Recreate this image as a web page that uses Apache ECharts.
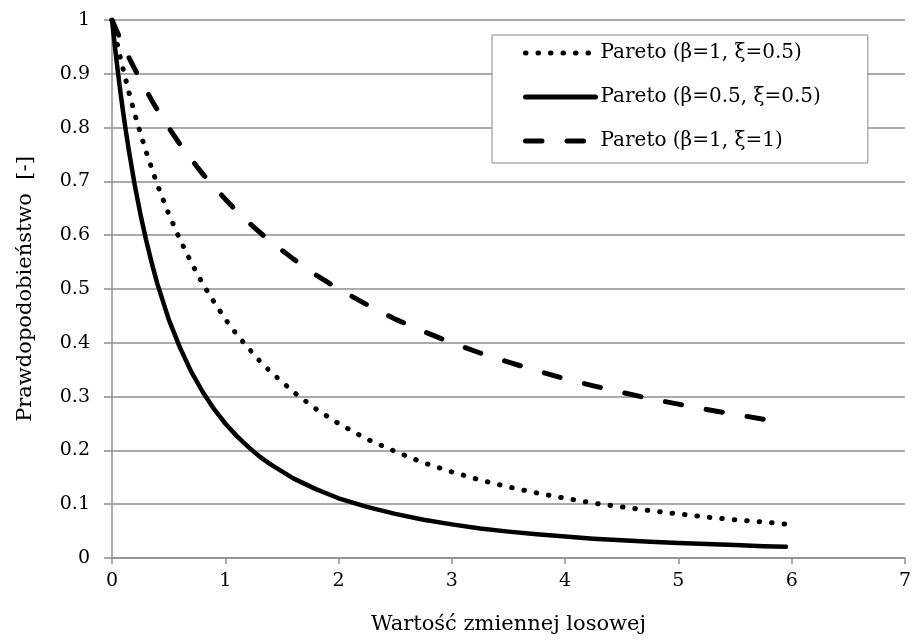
<!DOCTYPE html>
<html>
<head>
<meta charset="utf-8">
<title>Pareto</title>
<script src="https://cdn.jsdelivr.net/npm/echarts@6/dist/echarts.min.js"></script>
<style>
  html, body { margin: 0; padding: 0; background: #fff; }
  #chart { width: 914px; height: 640px; }
</style>
</head>
<body>
<div id="chart"></div>
<script>
// Values of the random variable (denser where the curves bend sharply)
const xValues = [0, 0.025, 0.05, 0.075, 0.1, 0.125, 0.15, 0.2, 0.25, 0.3, 0.35, 0.4, 0.5, 0.6, 0.7, 0.8, 0.9, 1.0,
  1.1, 1.2, 1.3, 1.4, 1.6, 1.8, 2.0, 2.25, 2.5, 2.75, 3.0, 3.25, 3.5, 3.75, 4.0,
  4.25, 4.5, 4.75, 5.0, 5.25, 5.5, 5.75, 5.95];

// Pareto (β=1, ξ=0.5)
const paretoB1X05 = [1, 0.976, 0.952, 0.929, 0.907, 0.886, 0.865, 0.826, 0.790, 0.756, 0.725, 0.694, 0.640,
  0.592, 0.549, 0.510, 0.476, 0.444, 0.416, 0.391, 0.367, 0.346, 0.309, 0.277, 0.250,
  0.221, 0.198, 0.177, 0.160, 0.145, 0.132, 0.121, 0.111,
  0.102, 0.095, 0.088, 0.082, 0.076, 0.071, 0.067, 0.063];

// Pareto (β=0.5, ξ=0.5)
const paretoB05X05 = [1, 0.952, 0.907, 0.865, 0.826, 0.790, 0.756, 0.694, 0.640, 0.592, 0.549, 0.510, 0.444,
  0.391, 0.346, 0.309, 0.277, 0.250, 0.227, 0.207, 0.189, 0.174, 0.148, 0.128, 0.111,
  0.095, 0.082, 0.071, 0.0625, 0.055, 0.049, 0.044, 0.040,
  0.036, 0.033, 0.030, 0.028, 0.026, 0.024, 0.022, 0.021];

// Pareto (β=1, ξ=1)
const paretoB1X1 = [1, 0.988, 0.976, 0.964, 0.952, 0.941, 0.930, 0.909, 0.889, 0.870, 0.851, 0.833, 0.800,
  0.769, 0.741, 0.714, 0.690, 0.667, 0.645, 0.625, 0.606, 0.588, 0.556, 0.526, 0.500,
  0.471, 0.444, 0.421, 0.400, 0.381, 0.364, 0.348, 0.333,
  0.320, 0.308, 0.296, 0.286, 0.276, 0.267, 0.258, 0.252];

const seriesNames = ['Pareto (β=1, ξ=0.5)', 'Pareto (β=0.5, ξ=0.5)', 'Pareto (β=1, ξ=1)'];
const xAxisTitle = 'Wartość zmiennej losowej';
const yAxisTitle = 'Prawdopodobieństwo  [-]';

const pairs = ys => xValues.map((x, i) => [x, ys[i]]);

const FONT = 'DejaVu Serif';
const GRID_GRAY = '#8f8f8f';

const chart = echarts.init(document.getElementById('chart'), null, { renderer: 'canvas' });

function lineSeries(name, ys, width, dash) {
  return {
    name: name,
    type: 'line',
    data: pairs(ys),
    symbol: 'none',
    smooth: false,
    animation: false,
    lineStyle: { color: '#000', width: width, type: dash, cap: 'round', join: 'round' },
    itemStyle: { color: '#000' }
  };
}

chart.setOption({
  backgroundColor: '#fff',
  animation: false,
  textStyle: { fontFamily: FONT, color: '#000' },
  grid: { left: 112, right: 5, top: 20, bottom: 80, containLabel: false },
  legend: {
    orient: 'vertical',
    left: 492,
    top: 35,
    padding: [8, 47, 12, 31],
    itemWidth: 70,
    itemHeight: 20,
    itemGap: 24,
    backgroundColor: '#fff',
    borderColor: '#8a8a8a',
    borderWidth: 1,
    itemStyle: { opacity: 0 },
    lineStyle: { width: 5 },
    textStyle: { fontFamily: FONT, fontSize: 20, color: '#000' },
    data: seriesNames
  },
  xAxis: {
    type: 'value',
    min: 0, max: 7, interval: 1,
    name: xAxisTitle,
    nameLocation: 'middle',
    nameGap: 56,
    nameTextStyle: { fontFamily: FONT, fontSize: 21, color: '#000' },
    axisLine: { show: true, lineStyle: { color: GRID_GRAY, width: 1.5 } },
    axisTick: { show: true, length: 6, lineStyle: { color: GRID_GRAY, width: 1.5 } },
    axisLabel: { fontFamily: FONT, fontSize: 19, color: '#000', margin: 14 },
    splitLine: { show: false }
  },
  yAxis: {
    type: 'value',
    min: 0, max: 1, interval: 0.1,
    name: yAxisTitle,
    nameLocation: 'middle',
    nameRotate: 90,
    nameGap: 76,
    nameTextStyle: { fontFamily: FONT, fontSize: 21, color: '#000' },
    axisLine: { show: true, lineStyle: { color: GRID_GRAY, width: 1.5 } },
    axisTick: { show: true, length: 8, lineStyle: { color: GRID_GRAY, width: 1.5 } },
    axisLabel: {
      fontFamily: FONT, fontSize: 19, color: '#000', margin: 22,
      formatter: v => String(Math.round(v * 10) / 10)
    },
    splitLine: { show: true, lineStyle: { color: GRID_GRAY, width: 1.5 } }
  },
  series: [
    lineSeries(seriesNames[0], paretoB1X05, 5, [0.5, 12]),
    lineSeries(seriesNames[1], paretoB05X05, 4.5, 'solid'),
    lineSeries(seriesNames[2], paretoB1X1, 5, [16.5, 25])
  ]
});
</script>
</body>
</html>
